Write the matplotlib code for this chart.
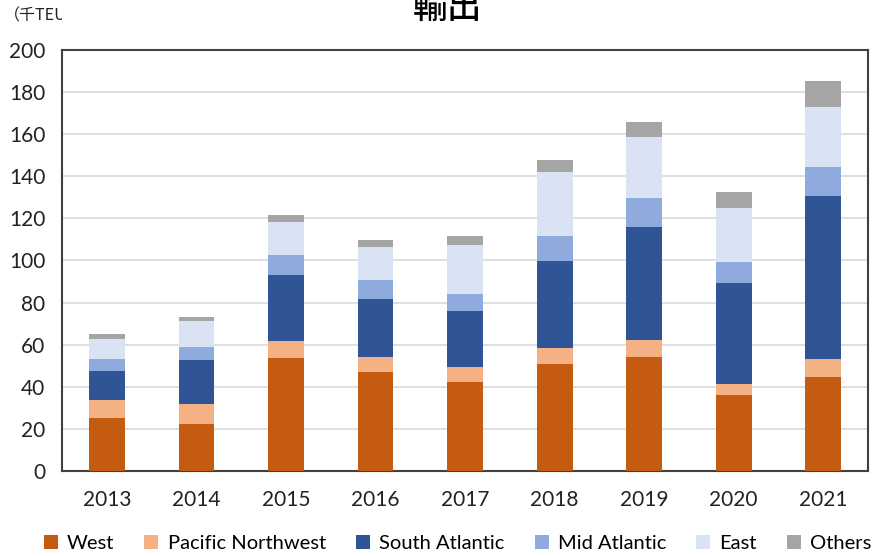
import numpy as np
import matplotlib.pyplot as plt
from matplotlib.transforms import Bbox

plt.rcParams['font.family'] = ['Lato', 'Noto Sans CJK JP', 'DejaVu Sans']

years = ["2013", "2014", "2015", "2016", "2017", "2018", "2019", "2020", "2021"]

# 千TEU
west = [25.0, 22.3, 53.5, 46.9, 42.1, 50.8, 54.3, 36.1, 44.8]
pacific_nw = [8.7, 9.7, 8.3, 7.1, 7.3, 7.8, 7.9, 5.2, 8.4]
south_atl = [13.9, 20.7, 31.2, 27.7, 26.5, 41.3, 53.8, 47.9, 77.4]
mid_atl = [5.8, 6.3, 9.6, 9.0, 8.3, 11.7, 13.8, 10.2, 13.7]
east = [9.3, 12.4, 15.8, 15.6, 23.2, 30.6, 29.0, 25.7, 28.5]
others = [2.3, 1.9, 3.1, 3.3, 4.2, 5.4, 6.8, 7.3, 12.6]

series = [
    ("West", west, "#C55A11"),
    ("Pacific Northwest", pacific_nw, "#F4B183"),
    ("South Atlantic", south_atl, "#2F5597"),
    ("Mid Atlantic", mid_atl, "#8FAADC"),
    ("East", east, "#DAE3F3"),
    ("Others", others, "#A5A5A5"),
]

fig = plt.figure(figsize=(8.75, 5.56), dpi=100)
ax = fig.add_axes([0.071, 0.153, 0.921, 0.757])

x = np.arange(len(years))
bottom = np.zeros(len(years))
for name, vals, color in series:
    ax.bar(x, vals, 0.4, bottom=bottom, color=color, label=name, zorder=3)
    bottom += np.array(vals)

ax.set_ylim(0, 200)
ax.set_yticks(range(0, 201, 20))
ax.set_xlim(-0.5, len(years) - 0.5)
ax.set_xticks(x)
ax.set_xticklabels(years)
ax.tick_params(axis="both", length=0, labelsize=15, colors="#222222")
ax.tick_params(axis="x", pad=14)
ax.tick_params(axis="y", pad=12)
ax.grid(True, axis="y", color="#D9D9D9", linewidth=1.2, zorder=0)
for sp in ax.spines.values():
    sp.set_color("#404040")
    sp.set_linewidth(1.5)

fig.legend(loc="center", bbox_to_anchor=(0.523, 0.023), ncol=6, frameon=False,
           fontsize=14.5, handlelength=0.7, handleheight=0.7, handletextpad=0.45,
           columnspacing=1.5, borderpad=0.1)

fig.text(0.511, 0.985, "輸出", ha="center", va="center", fontsize=25,
         fontweight="medium", family=['Noto Sans CJK JP', 'DejaVu Sans'])

unit = fig.text(0.004, 0.972, "（千TEU）", ha="left", va="center", fontsize=11.5,
                family=['Noto Sans CJK JP', 'DejaVu Sans'], color="#222222")
unit.set_clip_box(Bbox.from_extents(0, 0, 62, 556))
unit.set_clip_on(True)

fig.savefig("out.png", dpi=100)
